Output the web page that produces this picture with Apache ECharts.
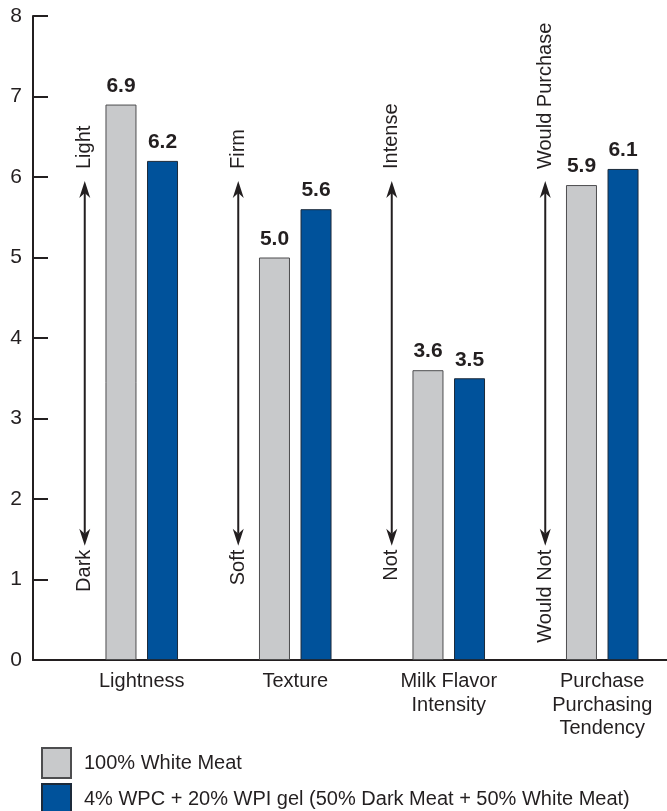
<!DOCTYPE html>
<html>
<head>
<meta charset="utf-8">
<script src="https://cdn.jsdelivr.net/npm/echarts@6/dist/echarts.min.js"></script>
<style>
html,body{margin:0;padding:0;background:#fff;}
#chart{width:667px;height:811px;}
</style>
</head>
<body>
<div id="chart"></div>
<script>
// ---- data ----
const categories = ['Lightness', 'Texture', 'Milk Flavor\nIntensity', 'Purchase\nPurchasing\nTendency'];
const seriesNames = ['100% White Meat', '4% WPC + 20% WPI gel (50% Dark Meat + 50% White Meat)'];
const whiteMeat = [6.9, 5.0, 3.6, 5.9];
const wpcGel = [6.2, 5.6, 3.5, 6.1];
const scaleHigh = ['Light', 'Firm', 'Intense', 'Would Purchase'];
const scaleLow = ['Dark', 'Soft', 'Not', 'Would Not'];
const yMin = 0, yMax = 8, yStep = 1;

// ---- style ----
const FONT = "'Liberation Sans', Arial, sans-serif";
const INK = '#231f20';
const GRAY = '#c8c9cb';
const BLUE = '#00529b';
const ARROW_TOP = 5.95, ARROW_BOTTOM = 1.42, ARROW_DX = -57;

const chart = echarts.init(document.getElementById('chart'), null, {renderer: 'canvas'});

function renderArrow(params, api) {
  const i = api.value(0);
  const cx = api.coord([i, 0])[0] + ARROW_DX;
  const yT = api.coord([i, ARROW_TOP])[1];
  const yB = api.coord([i, ARROW_BOTTOM])[1];
  const hw = 5.5, hl = 17, notch = 12;
  return {
    type: 'group',
    children: [
      {type: 'line', shape: {x1: cx, y1: yT + notch, x2: cx, y2: yB - notch}, style: {stroke: INK, lineWidth: 2}},
      {type: 'polygon', shape: {points: [[cx, yT], [cx - hw, yT + hl], [cx, yT + notch], [cx + hw, yT + hl]]}, style: {fill: INK}},
      {type: 'polygon', shape: {points: [[cx, yB], [cx - hw, yB - hl], [cx, yB - notch], [cx + hw, yB - hl]]}, style: {fill: INK}},
      {type: 'text', x: cx, y: yT - 12, rotation: Math.PI / 2,
        style: {text: scaleHigh[i], fontSize: 20, fontFamily: FONT, fill: INK, align: 'left', verticalAlign: 'middle'}},
      {type: 'text', x: cx, y: yB + 4, rotation: Math.PI / 2,
        style: {text: scaleLow[i], fontSize: 20, fontFamily: FONT, fill: INK, align: 'right', verticalAlign: 'middle'}}
    ]
  };
}

const valueLabel = {
  show: true, position: 'top', distance: 8,
  fontFamily: FONT, fontWeight: 'bold', fontSize: 21, color: INK,
  formatter: p => Number(p.value).toFixed(1)
};

const option = {
  backgroundColor: '#fff',
  animation: false,
  textStyle: {fontFamily: FONT},
  grid: [
    {left: 33, right: 0, top: 16, bottom: 151, outerBoundsMode: 'none'},
    {left: 65, width: 614, top: 16, bottom: 151, outerBoundsMode: 'none'}
  ],
  xAxis: [
    {type: 'category', gridIndex: 0, data: [''],
      axisLine: {show: true, lineStyle: {color: INK, width: 2}},
      axisTick: {show: false}, axisLabel: {show: false}, splitLine: {show: false}},
    {type: 'category', gridIndex: 1, data: categories,
      axisLine: {show: false}, axisTick: {show: false},
      axisLabel: {interval: 0, fontFamily: FONT, fontSize: 20, lineHeight: 23.5, color: INK, margin: 10}}
  ],
  yAxis: [
    {type: 'value', gridIndex: 0, min: yMin, max: yMax, interval: yStep,
      axisLine: {show: true, lineStyle: {color: INK, width: 2}},
      axisTick: {show: true, inside: true, length: 15, lineStyle: {color: INK, width: 2}},
      axisLabel: {fontFamily: FONT, fontSize: 21, color: INK, margin: 11},
      splitLine: {show: false}},
    {type: 'value', gridIndex: 1, min: yMin, max: yMax, interval: yStep, show: false}
  ],
  legend: {
    orient: 'vertical', left: 41, top: 747, height: 120, padding: 0,
    itemWidth: 29, itemHeight: 30, itemGap: 4, icon: 'rect',
    textStyle: {fontFamily: FONT, fontSize: 20, color: INK, padding: [0, 0, 0, 8]},
    data: seriesNames
  },
  series: [
    {name: seriesNames[0], type: 'bar', xAxisIndex: 1, yAxisIndex: 1, data: whiteMeat,
      barWidth: 31, barGap: '34%',
      itemStyle: {color: GRAY, borderColor: '#4d4d4f', borderWidth: 1},
      label: valueLabel},
    {name: seriesNames[1], type: 'bar', xAxisIndex: 1, yAxisIndex: 1, data: wpcGel,
      barWidth: 31, barGap: '34%',
      itemStyle: {color: BLUE, borderColor: '#1c2a3a', borderWidth: 1},
      label: valueLabel},
    {type: 'custom', xAxisIndex: 1, yAxisIndex: 1, silent: true,
      data: categories.map((c, i) => [i, 0]),
      encode: {x: 0, y: 1},
      renderItem: renderArrow}
  ]
};
chart.setOption(option);
</script>
</body>
</html>
